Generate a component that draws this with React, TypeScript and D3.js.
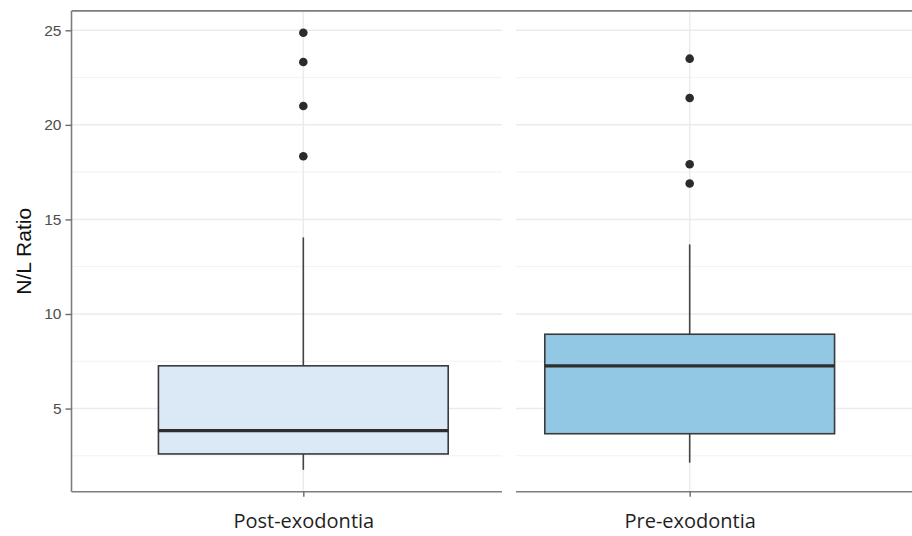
import { useEffect, useRef } from "react";
import * as d3 from "d3";

// box statistics
const categories = ["Post-exodontia", "Pre-exodontia"];
const lowerWhisker = [1.76, 2.14];
const q1 = [2.6, 3.67];
const medians = [3.83, 7.26];
const q3 = [7.26, 8.93];
const upperWhisker = [14.05, 13.68];
const outliersPost = [24.87, 23.32, 21.0, 18.34];
const outliersPre = [23.5, 21.42, 17.92, 16.9];
const boxFills = ["#dbe9f6", "#92c8e3"];
const yTicks = [5, 10, 15, 20, 25];
const yMinorTicks = [2.5, 7.5, 12.5, 17.5, 22.5];

const App = () => {
  const svgRef = useRef<SVGSVGElement | null>(null);

  useEffect(() => {
    document.body.style.margin = "0";
    const svg = d3.select(svgRef.current);
    svg.selectAll("*").remove();

    const width = 912;
    const height = 536;
    const margin = { top: 10.9, right: -9.5, bottom: 44.3, left: 71.5 };
    const gap = { from: 502, to: 516 }; // blank strip between the two halves

    const outliers = [outliersPost, outliersPre];
    const allVals = [...lowerWhisker, ...upperWhisker, ...outliersPost, ...outliersPre];
    const lo = d3.min(allVals)!;
    const hi = d3.max(allVals)!;
    const pad = (hi - lo) * 0.05;

    const y = d3.scaleLinear()
      .domain([lo - pad, hi + pad])
      .range([height - margin.bottom, margin.top]);

    // discrete axis with ggplot style expansion
    const x = d3.scaleLinear()
      .domain([0.4, categories.length + 0.6])
      .range([margin.left, width - margin.right]);
    const boxW = (x(1) - x(0)) * 0.75;

    const yBottom = y.range()[0];
    const yTop = y.range()[1];

    // grid
    const grid = svg.append("g");
    grid.selectAll("line.minor")
      .data(yMinorTicks)
      .join("line")
      .attr("x1", margin.left).attr("x2", width)
      .attr("y1", d => y(d)).attr("y2", d => y(d))
      .attr("stroke", "#f2f2f2").attr("stroke-width", 1);
    grid.selectAll("line.major")
      .data(yTicks)
      .join("line")
      .attr("x1", margin.left).attr("x2", width)
      .attr("y1", d => y(d)).attr("y2", d => y(d))
      .attr("stroke", "#ebebeb").attr("stroke-width", 1.5);
    grid.selectAll("line.vmajor")
      .data(categories)
      .join("line")
      .attr("x1", (d, i) => x(i + 1)).attr("x2", (d, i) => x(i + 1))
      .attr("y1", yTop).attr("y2", yBottom)
      .attr("stroke", "#ebebeb").attr("stroke-width", 1.5);

    // boxes
    const boxes = svg.append("g")
      .selectAll("g")
      .data(categories)
      .join("g");

    boxes.append("line")
      .attr("x1", (d, i) => x(i + 1)).attr("x2", (d, i) => x(i + 1))
      .attr("y1", (d, i) => y(upperWhisker[i])).attr("y2", (d, i) => y(q3[i]))
      .attr("stroke", "#444").attr("stroke-width", 1.6);
    boxes.append("line")
      .attr("x1", (d, i) => x(i + 1)).attr("x2", (d, i) => x(i + 1))
      .attr("y1", (d, i) => y(q1[i])).attr("y2", (d, i) => y(lowerWhisker[i]))
      .attr("stroke", "#444").attr("stroke-width", 1.6);
    boxes.append("rect")
      .attr("x", (d, i) => x(i + 1) - boxW / 2)
      .attr("width", boxW)
      .attr("y", (d, i) => y(q3[i]))
      .attr("height", (d, i) => y(q1[i]) - y(q3[i]))
      .attr("fill", (d, i) => boxFills[i])
      .attr("stroke", "#3a3a3a").attr("stroke-width", 1.6);
    boxes.append("line")
      .attr("x1", (d, i) => x(i + 1) - boxW / 2).attr("x2", (d, i) => x(i + 1) + boxW / 2)
      .attr("y1", (d, i) => y(medians[i])).attr("y2", (d, i) => y(medians[i]))
      .attr("stroke", "#2e2e2e").attr("stroke-width", 3.2);
    boxes.selectAll("circle")
      .data((d, i) => outliers[i].map(v => ({ v, i })))
      .join("circle")
      .attr("cx", d => x(d.i + 1))
      .attr("cy", d => y(d.v))
      .attr("r", 4.3)
      .attr("fill", "#2b2b2b");

    // blank strip between halves
    svg.append("rect")
      .attr("x", gap.from).attr("width", gap.to - gap.from)
      .attr("y", yTop + 1).attr("height", yBottom - yTop + 2)
      .attr("fill", "#ffffff");

    // panel border
    const border = "#7d7d7d";
    svg.append("line")
      .attr("x1", margin.left).attr("x2", width)
      .attr("y1", yTop).attr("y2", yTop)
      .attr("stroke", border).attr("stroke-width", 1.6);
    svg.append("line")
      .attr("x1", margin.left).attr("x2", margin.left)
      .attr("y1", yTop).attr("y2", yBottom)
      .attr("stroke", border).attr("stroke-width", 1.6);
    [[margin.left, gap.from], [gap.to, width]].forEach(([a, b]) => {
      svg.append("line")
        .attr("x1", a).attr("x2", b)
        .attr("y1", yBottom).attr("y2", yBottom)
        .attr("stroke", border).attr("stroke-width", 1.6);
    });

    // y axis
    const yAxis = svg.append("g")
      .attr("transform", `translate(${margin.left},0)`)
      .call(d3.axisLeft(y).tickValues(yTicks).tickSize(6).tickPadding(4));
    yAxis.select(".domain").remove();
    yAxis.selectAll(".tick line").attr("stroke", "#6a6a6a").attr("stroke-width", 1.4);
    yAxis.selectAll(".tick text")
      .attr("fill", "#4d4d4d")
      .style("font-family", "'Liberation Sans', Arial, sans-serif")
      .style("font-size", "15.5px");

    // x axis
    const xAxis = svg.append("g")
      .attr("transform", `translate(0,${yBottom})`)
      .call(d3.axisBottom(x).tickValues(categories.map((c, i) => i + 1))
        .tickFormat((d: any) => categories[+d - 1]).tickSize(5).tickPadding(17));
    xAxis.select(".domain").remove();
    xAxis.selectAll(".tick line").attr("stroke", "#6a6a6a").attr("stroke-width", 1.4);
    xAxis.selectAll(".tick text")
      .attr("fill", "#1f1f1f")
      .style("font-family", "'Open Sans', sans-serif")
      .style("font-size", "20px");

    // y title
    svg.append("text")
      .attr("transform", `translate(31,${(yTop + yBottom) / 2}) rotate(-90)`)
      .attr("text-anchor", "middle")
      .style("font-family", "'Liberation Sans', Arial, sans-serif")
      .style("font-size", "21px")
      .attr("fill", "#111")
      .text("N/L Ratio");
  }, []);

  return (
    <svg ref={svgRef} width={912} height={536} style={{ display: "block", background: "#fff" }} />
  );
};

export default App;
